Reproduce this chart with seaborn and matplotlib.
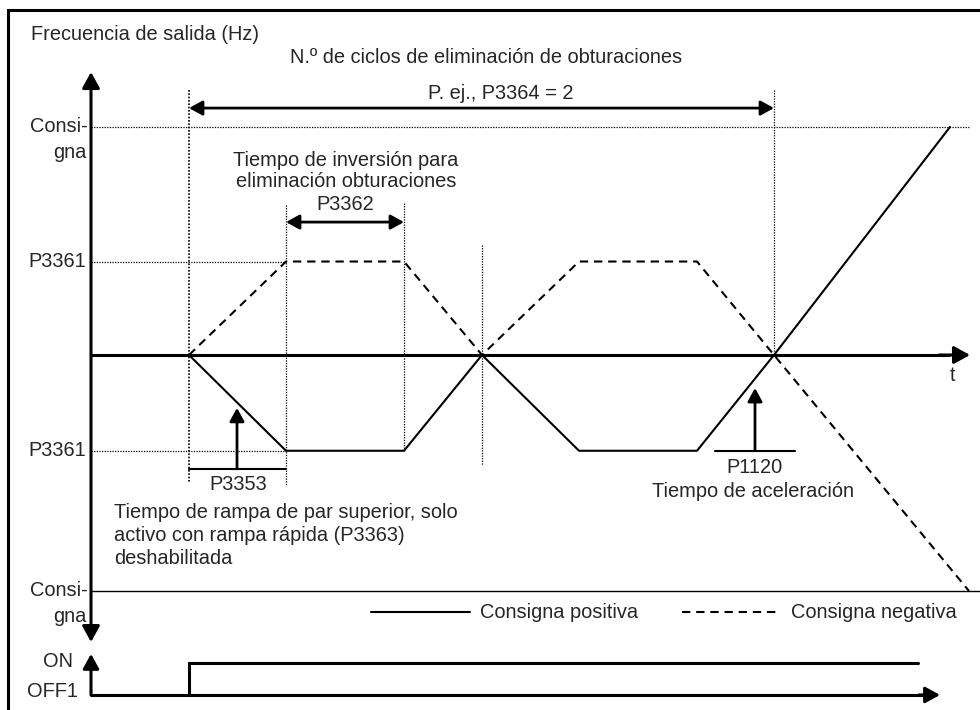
import pandas as pd
import matplotlib
matplotlib.use('Agg')
import matplotlib.pyplot as plt
import seaborn as sns
from matplotlib.lines import Line2D

# Tiempo en unidades arbitrarias, frecuencia en % de la consigna
t_pos = [0, 9.7, 21.5, 29.3, 39.0, 50.8, 58.5, 76.1]
f_pos = [0, -42, -42, 0, -42, -42, 0, 100]
t_neg = [0, 9.7, 21.5, 29.3, 39.0, 50.8, 58.5, 78.0]
f_neg = [0, 41, 41, 0, 41, 41, 0, -103.5]

consigna_sup = 100
consigna_inf = -103.5
p3361_sup = 41
p3361_inf = -42

# señal ON/OFF1
on_t = [0, 0, 72.9]
on_f = [-149.1, -135.1, -135.1]

serie_pos = 'Consigna positiva'
serie_neg = 'Consigna negativa'

df = pd.DataFrame({
    't': t_pos + t_neg,
    'f': f_pos + f_neg,
    'serie': [serie_pos] * len(t_pos) + [serie_neg] * len(t_neg),
})

sns.set_theme(style='white')
plt.rcParams['font.family'] = ['Liberation Sans', 'DejaVu Sans']
FS = 14.4

fig = plt.figure(figsize=(9.8, 7.1), dpi=100)
ax = fig.add_axes([0, 0, 1, 1])
ax.set_xlim(-18.9, 79.1)
ax.set_ylim(-155.7, 155.7)
ax.axis('off')

K = 'black'
LW_AX = 2.2
LW_CURVE = 1.5
DOT = dict(color=K, lw=0.9, ls=(0, (1, 1.1)))


def flecha(x0, y0, x1, y1, doble=False, lw=LW_AX, ms=21):
    estilo = '<|-|>' if doble else '-|>'
    ax.annotate('', xy=(x1, y1), xytext=(x0, y0),
                arrowprops=dict(arrowstyle=estilo + ',head_length=0.4,head_width=0.22',
                                color=K, lw=lw, shrinkA=0, shrinkB=0,
                                mutation_scale=ms))


# marco (solo arriba e izquierda)
ax.plot([-18.1, -18.1, 79.1], [-155.7, 151.3, 151.3], color=K, lw=LW_AX,
        solid_joinstyle='miter')

# líneas auxiliares punteadas
ax.plot([-9.8, 78.1], [consigna_sup, consigna_sup], **DOT)
ax.plot([-9.8, t_pos[1]], [p3361_sup, p3361_sup], **DOT)
ax.plot([-9.8, t_pos[1]], [p3361_inf, p3361_inf], **DOT)
ax.plot([0, 0], [116.2, -56.1], color=K, lw=1.2, ls=(0, (1, 1)))
ax.plot([t_pos[1], t_pos[1]], [65.8, -57.5], **DOT)
ax.plot([t_pos[2], t_pos[2]], [66.7, p3361_inf], **DOT)
ax.plot([t_pos[3], t_pos[3]], [48.2, -48.2], **DOT)
ax.plot([t_pos[6], t_pos[6]], [116.2, 0], **DOT)

# consigna inferior (línea continua fina)
ax.plot([-9.8, 79.1], [consigna_inf, consigna_inf], color=K, lw=1.0)

# curvas
sns.lineplot(data=df, x='t', y='f', style='serie', color=K, lw=LW_CURVE,
             dashes={serie_pos: '', serie_neg: (4, 2.8)}, sort=False,
             estimator=None, legend=False, ax=ax)

# ejes
flecha(-9.8, -125.9, -9.8, 124.1, doble=True, ms=24)
ax.plot([-9.8, 76.0], [0, 0], color=K, lw=LW_AX)
flecha(75.0, 0, 78.1, 0, ms=24)
ax.text(76.3, -8.8, 't', fontsize=FS, ha='center', va='center')

# señal ON / OFF1
ax.plot([-9.8, 74.0], [on_f[0], on_f[0]], color=K, lw=LW_AX)
flecha(73.0, on_f[0], 75.1, on_f[0], ms=22)
flecha(-9.8, on_f[0], -9.8, -131.1, ms=22)
ax.plot(on_t, on_f, color=K, lw=LW_AX, solid_joinstyle='miter')

# etiquetas eje vertical
for lvl in (consigna_sup, consigna_inf):
    ax.text(-10.1, lvl, 'Consi-', fontsize=FS, ha='right', va='center')
    ax.text(-10.3, lvl - 11.2, 'gna', fontsize=FS, ha='right', va='center')
for lvl in (p3361_sup, p3361_inf):
    ax.text(-10.3, lvl, 'P3361', fontsize=FS, ha='right', va='center')
ax.text(-11.6, -134.3, 'ON', fontsize=FS, ha='right', va='center')
ax.text(-11.1, -147.4, 'OFF1', fontsize=FS, ha='right', va='center')

# textos superiores
ax.text(-15.8, 140.4, 'Frecuencia de salida (Hz)', fontsize=FS, ha='left', va='center')
ax.text(29.7, 130.7, 'N.º de ciclos de eliminación de obturaciones', fontsize=FS,
        ha='center', va='center')
flecha(0, 108.3, t_pos[6], 108.3, doble=True, lw=2.0, ms=20)
ax.text(31.2, 114.5, 'P. ej., P3364 = 2', fontsize=FS, ha='center', va='center')

# P3362
ax.text(15.7, 85.5, 'Tiempo de inversión para', fontsize=FS, ha='center', va='center')
ax.text(15.7, 75.9, 'eliminación obturaciones', fontsize=FS, ha='center', va='center')
ax.text(15.6, 65.8, 'P3362', fontsize=FS, ha='center', va='center')
flecha(t_pos[1], 58.3, t_pos[2], 58.3, doble=True, lw=2.0, ms=20)

# P3353
ax.plot([0, t_pos[1]], [-50, -50], color=K, lw=LW_CURVE)
flecha(4.8, -50, 4.8, -23.2, lw=2.0, ms=20)
ax.text(4.9, -57.0, 'P3353', fontsize=FS, ha='center', va='center')
nota = ['Tiempo de rampa de par superior, solo',
        'activo con rampa rápida (P3363)',
        'deshabilitada']
for i, linea in enumerate(nota):
    ax.text(-7.5, -68.9 - 10.1 * i, linea, fontsize=FS, ha='left', va='center')

# P1120
ax.plot([52.6, 60.6], [p3361_inf, p3361_inf], color=K, lw=LW_CURVE)
flecha(56.6, p3361_inf, 56.6, -14.5, lw=2.0, ms=20)
ax.text(56.6, -49.4, 'P1120', fontsize=FS, ha='center', va='center')
ax.text(56.4, -59.8, 'Tiempo de aceleración', fontsize=FS, ha='center', va='center')

# leyenda
handles = [Line2D([], [], color=K, lw=LW_CURVE),
           Line2D([], [], color=K, lw=LW_CURVE, ls=(0, (4, 2.8)))]
ax.legend(handles, [serie_pos, serie_neg], ncol=2, loc='center left',
          bbox_to_anchor=(371 / 980, 1 - 613 / 710), frameon=False,
          fontsize=FS, handlelength=4.95, handletextpad=0.5,
          columnspacing=2.2, borderpad=0, borderaxespad=0)

fig.savefig('out.png', dpi=100)
